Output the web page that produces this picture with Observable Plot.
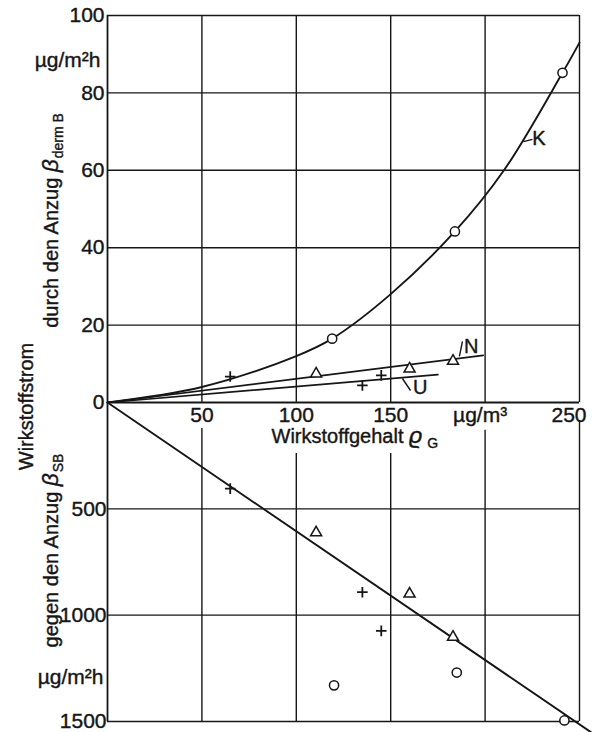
<!DOCTYPE html>
<html>
<head>
<meta charset="utf-8">
<script src="https://cdn.jsdelivr.net/npm/d3@7"></script>
<script src="https://cdn.jsdelivr.net/npm/@observablehq/plot@0.6"></script>
<style>
  html, body { margin: 0; padding: 0; background: #fff; }
  #chart { position: relative; width: 592px; height: 732px; overflow: hidden; }
  #chart svg { position: absolute; left: 0; overflow: visible; }
</style>
</head>
<body>
<div id="chart"></div>
<script>
// ---------- data ----------
// x axis: Wirkstoffgehalt (µg/m³)
const xTicks = [50, 100, 150, 200, 250];
const xTickLabels = ["50", "100", "150", "µg/m³", "250"];
// upper panel: durch den Anzug (µg/m²h)
const yTopTicks = [0, 20, 40, 60, 80, 100];
// lower panel: gegen den Anzug (µg/m²h, downward)
const yBottomTicks = [500, 1000, 1500];

// curve K (upper panel)
const kX = [0, 50, 100, 119, 150, 184, 210, 241, 250];
const kY = [0, 4, 12, 16.5, 28, 44.2, 60, 85.2, 93];
// line N
const nX = [0, 199];
const nY = [0, 12.2];
// line U
const uX = [0, 175];
const uY = [0, 7.2];
// line in lower panel
const sbX = [0, 256];
const sbY = [0, 1550];

// measured points: + (U), triangle (N), circle (K)
const plusX = [65, 135, 145];
const plusTop = [6.7, 4.4, 7.0];
const plusBottom = [405, 892, 1074];
const triX = [110.5, 160, 183];
const triTop = [7.4, 8.7, 10.7];
const triBottom = [612, 900, 1103];
const circX = [119, 184, 241];
const circTop = [16.5, 44.2, 85.2];
const circXBottom = [120, 185, 242];
const circBottom = [1330, 1270, 1495];

// curve labels
const curveNames = ["K", "N", "U"];
const curveLabelX = [228.5, 192.7, 165.6];
const curveLabelY = [68.1, 14.5, 3.75];
const leaderX1 = [220.3, 186.4, 156.2];
const leaderY1 = [67.4, 11.9, 6.2];
const leaderX2 = [225.1, 188, 160.5];
const leaderY2 = [68, 15.8, 3.1];

// ---------- layout (not data) ----------
// where the lower-panel vertical grid lines resume below the axis labels
const lowerGridStart = [122, 240, 240, 131, 85];

const ink = "#161616";
const FONT = "'Liberation Sans', Arial, sans-serif";
const zip = (xs, ys) => xs.map((x, i) => ({x, y: ys[i]}));
const txt = {fill: ink, stroke: ink, strokeWidth: 0.4};
const common = {
  width: 592,
  marginLeft: 107,
  marginRight: 13,
  style: {fontFamily: FONT, fontSize: "20px", background: "transparent", color: ink, overflow: "visible"}
};

// ---------- upper panel ----------
const upperPlot = Plot.plot({
  ...common,
  height: 404,
  marginTop: 15,
  marginBottom: 2,
  x: {domain: [0, 250], axis: null},
  y: {domain: [0, 100], axis: null},
  marks: [
    Plot.ruleY(yTopTicks.filter(v => v > 0), {x1: 0, x2: 250, stroke: ink, strokeWidth: 1.4}),
    Plot.ruleX(xTicks, {y1: 0, y2: 100, stroke: ink, strokeWidth: 1.4}),
    Plot.ruleX([0], {y1: 0, y2: 100, stroke: ink, strokeWidth: 1.8}),

    Plot.line(zip(kX, kY), {x: "x", y: "y", curve: "catmull-rom", stroke: ink, strokeWidth: 1.9}),
    Plot.line(zip(nX, nY), {x: "x", y: "y", stroke: ink, strokeWidth: 1.7}),
    Plot.line(zip(uX, uY), {x: "x", y: "y", stroke: ink, strokeWidth: 1.7}),

    Plot.dot(zip(circX, circTop), {x: "x", y: "y", r: 4.6, fill: "white", stroke: ink, strokeWidth: 1.5}),
    Plot.dot(zip(triX, triTop), {x: "x", y: "y", symbol: "triangle", r: 4.1, fill: "white", stroke: ink, strokeWidth: 1.5}),
    Plot.dot(zip(plusX, plusTop), {x: "x", y: "y", symbol: "plus", r: 3.5, stroke: ink, strokeWidth: 1.8}),

    Plot.link(curveNames, {x1: (d, i) => leaderX1[i], y1: (d, i) => leaderY1[i], x2: (d, i) => leaderX2[i], y2: (d, i) => leaderY2[i], stroke: ink, strokeWidth: 1.4}),
    Plot.text(curveNames, {x: (d, i) => curveLabelX[i], y: (d, i) => curveLabelY[i], text: d => d, fontSize: 20, ...txt}),

    Plot.text(yTopTicks, {x: 0, y: d => d, text: d => String(d), textAnchor: "end", dx: -3, fontSize: 21, ...txt}),
    Plot.text(["µg/m²h"], {x: 0, y: 88.5, text: d => d, textAnchor: "end", dx: -7, fontSize: 21, ...txt}),
    Plot.text(["durch den Anzug β_derm B"], {x: 0, y: 0, text: d => d, rotate: -90, dx: -56, dy: -182, fontSize: 20, ...txt})
  ]
});

// ---------- lower panel ----------
const lowerPlot = Plot.plot({
  ...common,
  height: 332,
  marginTop: 2,
  marginBottom: 11,
  x: {domain: [0, 250], axis: null},
  y: {domain: [1500, 0], axis: null},
  marks: [
    Plot.ruleY(yBottomTicks, {x1: 0, x2: 250, stroke: ink, strokeWidth: 1.4}),
    Plot.ruleX(xTicks.map((x, i) => ({x, s: lowerGridStart[i]})), {x: "x", y1: "s", y2: 1500, stroke: ink, strokeWidth: 1.4}),
    Plot.ruleX([0], {y1: 0, y2: 1500, stroke: ink, strokeWidth: 1.8}),
    Plot.ruleY([0], {x1: 0, x2: 250, stroke: ink, strokeWidth: 1.8}),

    Plot.line(zip(sbX, sbY), {x: "x", y: "y", stroke: ink, strokeWidth: 1.9}),

    Plot.dot(zip(circXBottom, circBottom), {x: "x", y: "y", r: 4.6, fill: "white", stroke: ink, strokeWidth: 1.5}),
    Plot.dot(zip(triX, triBottom), {x: "x", y: "y", symbol: "triangle", r: 4.1, fill: "white", stroke: ink, strokeWidth: 1.5}),
    Plot.dot(zip(plusX, plusBottom), {x: "x", y: "y", symbol: "plus", r: 3.5, stroke: ink, strokeWidth: 1.8}),

    Plot.text(yBottomTicks, {x: 0, y: d => d, text: d => String(d), textAnchor: "end", dx: -1, fontSize: 21, ...txt}),
    Plot.text(["µg/m²h"], {x: 0, y: 1293, text: d => d, textAnchor: "end", dx: -4, fontSize: 21, ...txt}),

    Plot.text(xTicks.slice(0, 3), {x: d => d, y: 0, text: (d, i) => xTickLabels[i], dy: 13, fontSize: 21, ...txt}),
    Plot.text([xTicks[3]], {x: d => d, y: 0, text: () => xTickLabels[3], dy: 13, dx: -5, fontSize: 21, ...txt}),
    Plot.text([xTicks[4]], {x: d => d, y: 0, text: () => xTickLabels[4], dy: 13, dx: 7, textAnchor: "end", fontSize: 21, ...txt}),

    Plot.text(["Wirkstoffgehalt ϱ_G"], {x: 131, y: 0, text: d => d, dy: 34, fontSize: 20, ...txt}),
    Plot.text(["Wirkstoffstrom"], {x: 0, y: 0, text: d => d, rotate: -90, dx: -81, dy: 4, fontSize: 20, ...txt}),
    Plot.text(["gegen den Anzug β_SB"], {x: 0, y: 0, text: d => d, rotate: -90, dx: -56, dy: 148, fontSize: 20, ...txt})
  ]
});

// subscripts / italic Greek letters
for (const svg of [upperPlot, lowerPlot]) {
  d3.select(svg).selectAll("text").each(function () {
    const t = this.textContent;
    if (!t.includes("_")) return;
    const [main, sub] = t.split("_");
    const m = main.match(/^(.*?)([βϱ])\s*$/);
    const el = d3.select(this);
    el.text(null);
    el.append("tspan").text(m[1]);
    el.append("tspan").attr("font-style", "italic").attr("font-size", "1.15em").text(m[2]);
    el.append("tspan").attr("font-size", "0.7em").attr("dy", "0.35em").attr("dx", m[2] === "ϱ" ? "0.35em" : "0.05em").text(sub);
  });
}

const chart = document.getElementById("chart");
upperPlot.style.top = "0px";
lowerPlot.style.top = "400px";
chart.appendChild(upperPlot);
chart.appendChild(lowerPlot);
</script>
</body>
</html>
